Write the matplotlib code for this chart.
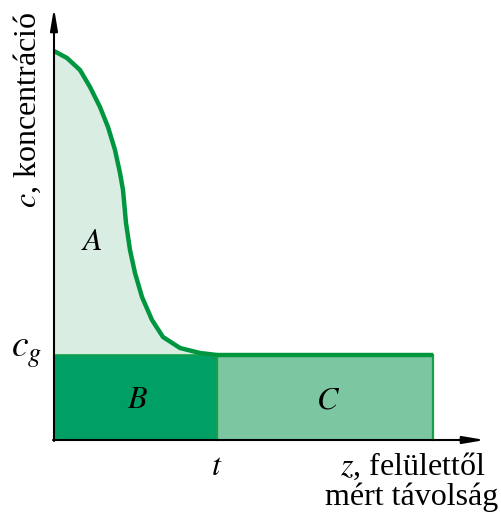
import matplotlib
matplotlib.use("Agg")
from matplotlib import pyplot as plt

# concentration profile (z = distance, c = concentration)
z_curve = [0, 13, 26, 36, 46, 54, 61, 66, 69, 72, 76, 81, 88, 98, 109, 126, 146, 163]
c_curve = [389, 382, 370, 353, 333, 313, 290, 267, 250, 217, 190, 167, 143, 120,
           103, 92, 87, 85]

c_g = 85        # plateau concentration
z_t = 163       # t, end of region B
z_end = 379     # right end of plateau / region C

GREEN = "#00963f"
EDGE = "#16a04a"
FILL_A = "#d9ede2"
FILL_B = "#00a065"
FILL_C = "#7cc6a2"

plt.rcParams["font.family"] = ["Liberation Serif", "DejaVu Serif"]
plt.rcParams["mathtext.fontset"] = "stix"

fig = plt.figure(figsize=(5.02, 5.15), dpi=100)
ax = fig.add_axes([0, 0, 1, 1])
ax.set_xlim(-54, 448)
ax.set_ylim(-75, 440)
ax.axis("off")

# region A (under the curve, above c_g)
ax.fill_between(z_curve, c_curve, c_g, color=FILL_A, lw=0)
# regions B and C
ax.fill_between([0, z_t], 0, c_g, color=FILL_B, lw=0)
ax.fill_between([z_t, z_end], 0, c_g, color=FILL_C, lw=0)
ax.plot([z_t, z_t], [0, c_g], color=EDGE, lw=1.6)
ax.plot([z_end, z_end], [0, c_g], color=EDGE, lw=1.6)
ax.plot([0, z_end], [c_g, c_g], color=EDGE, lw=1.2)

# curve and plateau
ax.plot(z_curve + [z_end], c_curve + [c_g], color=GREEN, lw=3.2,
        solid_capstyle="butt", solid_joinstyle="round")

# axes with arrows
arrow = dict(arrowstyle="-|>,head_length=1.3,head_width=0.22",
             color="black", lw=1.5, shrinkA=0, shrinkB=0)
ax.annotate("", xy=(0, 432), xytext=(0, -1), arrowprops=arrow)
ax.annotate("", xy=(431, 0), xytext=(-1, 0), arrowprops=arrow)

fs = 23
ax.text(-27, 330, "$c$, koncentráció", rotation=90, fontsize=fs,
        ha="center", va="center")
ax.text(-12, c_g + 2, "$c_g$", fontsize=fs + 4, ha="right", va="center")
ax.text(38, 197, "$A$", fontsize=fs, ha="center", va="center")
ax.text(84, 39, "$B$", fontsize=fs, ha="center", va="center")
ax.text(274, 39, "$C$", fontsize=fs, ha="center", va="center")
ax.text(z_t, -35, "$t$", fontsize=fs, ha="center", va="baseline")
ax.text(431, -35, "$z$, felülettől", fontsize=fs, ha="right", va="baseline")
ax.text(271, -65, "mért távolság", fontsize=fs, ha="left", va="baseline")

fig.savefig("out.png", dpi=100, facecolor="white")
